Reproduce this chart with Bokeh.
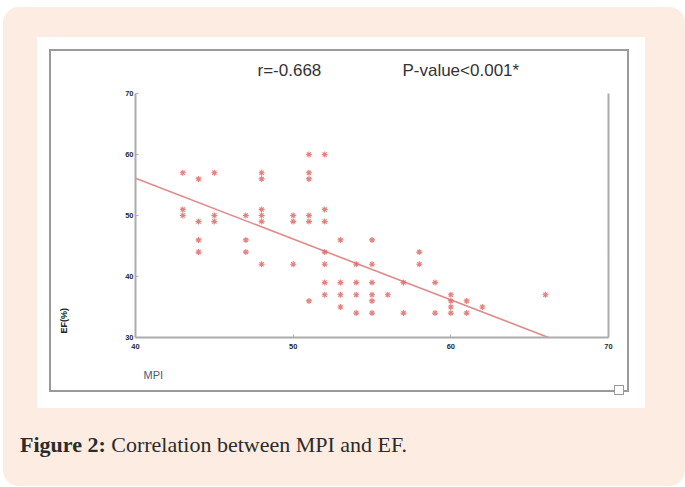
from bokeh.plotting import figure
from bokeh.models import (Range1d, LinearAxis, FixedTicker, Label, Title, Div,
                          ColumnDataSource)
from bokeh.layouts import column
from bokeh.embed import file_html
from bokeh.resources import INLINE

# ---- data ----
mpi = [43, 44, 45, 48, 48, 51, 52, 51, 51,
       43, 43, 44, 45, 45, 44, 44, 47, 47, 47,
       48, 48, 48, 48, 50, 50, 50, 51, 51, 51,
       52, 52, 52, 52, 52, 52,
       53, 53, 53, 53,
       54, 54, 54, 54,
       55, 55, 55, 55, 55, 55,
       56, 57, 57, 58, 58, 59, 59,
       60, 60, 60, 60, 61, 61, 62, 66]
ef = [57, 56, 57, 57, 56, 60, 60, 57, 56,
      51, 50, 49, 50, 49, 46, 44, 50, 46, 44,
      51, 50, 49, 42, 50, 49, 42, 50, 49, 36,
      51, 49, 44, 42, 39, 37,
      46, 39, 37, 35,
      42, 39, 37, 34,
      46, 42, 39, 37, 36, 34,
      37, 39, 34, 44, 42, 39, 34,
      37, 36, 35, 34, 36, 34, 35, 37]

fit_mpi = [40, 68.5]
fit_ef = [56.1, 27.7]

x_ticks = [40, 50, 60, 70]
y_ticks = [30, 40, 50, 60, 70]

r_text = "r=-0.668"
p_text = "P-value<0.001*"
x_label = "MPI"
y_label = "EF(%)"
caption_bold = "Figure 2:"
caption_rest = "Correlation between MPI and EF."

PEACH = "#fcece1"
RED = "#e06a6a"
LINE = "#e08a8a"
GRAY = "#acacac"
FRAME = "#9a9a9a"

W, H = 682, 421
p = figure(width=W, height=H, output_backend="svg", toolbar_location=None,
           x_range=Range1d(40, 70), y_range=Range1d(30, 76.56),
           min_border_left=132, min_border_right=77,
           min_border_top=46, min_border_bottom=91,
           x_axis_location=None, y_axis_location=None)
p.margin = (7, 0, 0, 3)
p.border_fill_alpha = 0
p.background_fill_alpha = 0
p.outline_line_color = None
p.grid.visible = False

# decorative page panels (peach card, white panel, gray chart frame, corner box)
p.styles = {
    "background": (
        "linear-gradient(#fff,#fff) 612px 379px / 8px 8px no-repeat, "
        f"linear-gradient({FRAME},{FRAME}) 611px 378px / 10px 10px no-repeat, "
        "linear-gradient(#fff,#fff) 48px 44px / 576px 339px no-repeat, "
        f"linear-gradient({FRAME},{FRAME}) 46px 42px / 580px 343px no-repeat, "
        "linear-gradient(#fff,#fff) 34px 30px / 608px 371px no-repeat, "
        f"{PEACH}"
    ),
    "border-radius": "16px 16px 0 0",
    "overflow": "hidden",
}

def style_axis(ax, labels=True):
    ax.axis_line_color = GRAY
    ax.axis_line_width = 2
    ax.major_tick_in = 3
    ax.major_tick_out = 0
    ax.major_tick_line_color = GRAY
    ax.minor_tick_line_color = None
    ax.major_label_text_font = "Liberation Sans"
    ax.major_label_text_font_size = "7.5px"
    ax.major_label_text_font_style = "bold"
    ax.major_label_text_color = "#2a2a2a"
    if not labels:
        ax.major_label_text_alpha = 0
        ax.major_tick_line_color = None

xax = LinearAxis(ticker=FixedTicker(ticks=x_ticks))
style_axis(xax)
xax.major_label_standoff = 6
p.add_layout(xax, "below")

yax = LinearAxis(ticker=FixedTicker(ticks=y_ticks), bounds=(y_ticks[0], y_ticks[-1]))
style_axis(yax)
yax.major_label_standoff = 2
p.add_layout(yax, "left")

rax = LinearAxis(ticker=FixedTicker(ticks=[]), bounds=(y_ticks[0], y_ticks[-1]))
style_axis(rax, labels=False)
p.add_layout(rax, "right")

# axis titles placed as side-panel titles
p.add_layout(Title(text=x_label, align="left", offset=8, standoff=30,
                   text_font="Liberation Sans", text_font_size="11px",
                   text_font_style="normal", text_color="#4a5a78"), "below")
p.add_layout(Title(text=y_label, align="left", offset=4, standoff=104,
                   vertical_align="top",
                   text_font="Liberation Sans", text_font_size="9px",
                   text_font_style="bold", text_color="#222222"), "left")

# regression line
p.line(fit_mpi, fit_ef, line_color=LINE, line_width=1.6)

# scatter
src = ColumnDataSource(dict(x=mpi, y=ef))
p.scatter("x", "y", source=src, marker="asterisk", size=6,
          line_color=RED, line_width=1.1, line_alpha=0.85)

# statistics text (inside the frame's upper strip)
for txt, xx in ((r_text, 47.74), (p_text, 56.93)):
    p.add_layout(Label(x=xx, y=73.8, text=txt, text_font="Liberation Sans",
                       text_font_size="17px", text_color="#333333",
                       text_baseline="middle", text_align="left"))

cap = Div(text=(
    '<div style="padding:4px 0 0 17px; font-family:\'Liberation Serif\'; '
    'font-size:22px; line-height:26px; color:#2b2b2b; white-space:nowrap;">'
    f'<b>{caption_bold}</b> {caption_rest}</div>'),
    width=W, height=58, margin=(0, 0, 0, 3),
    styles={"background-color": PEACH, "border-radius": "0 0 16px 16px"})

layout = column(p, cap, spacing=0)
open("out.html", "w").write(file_html(layout, INLINE))
